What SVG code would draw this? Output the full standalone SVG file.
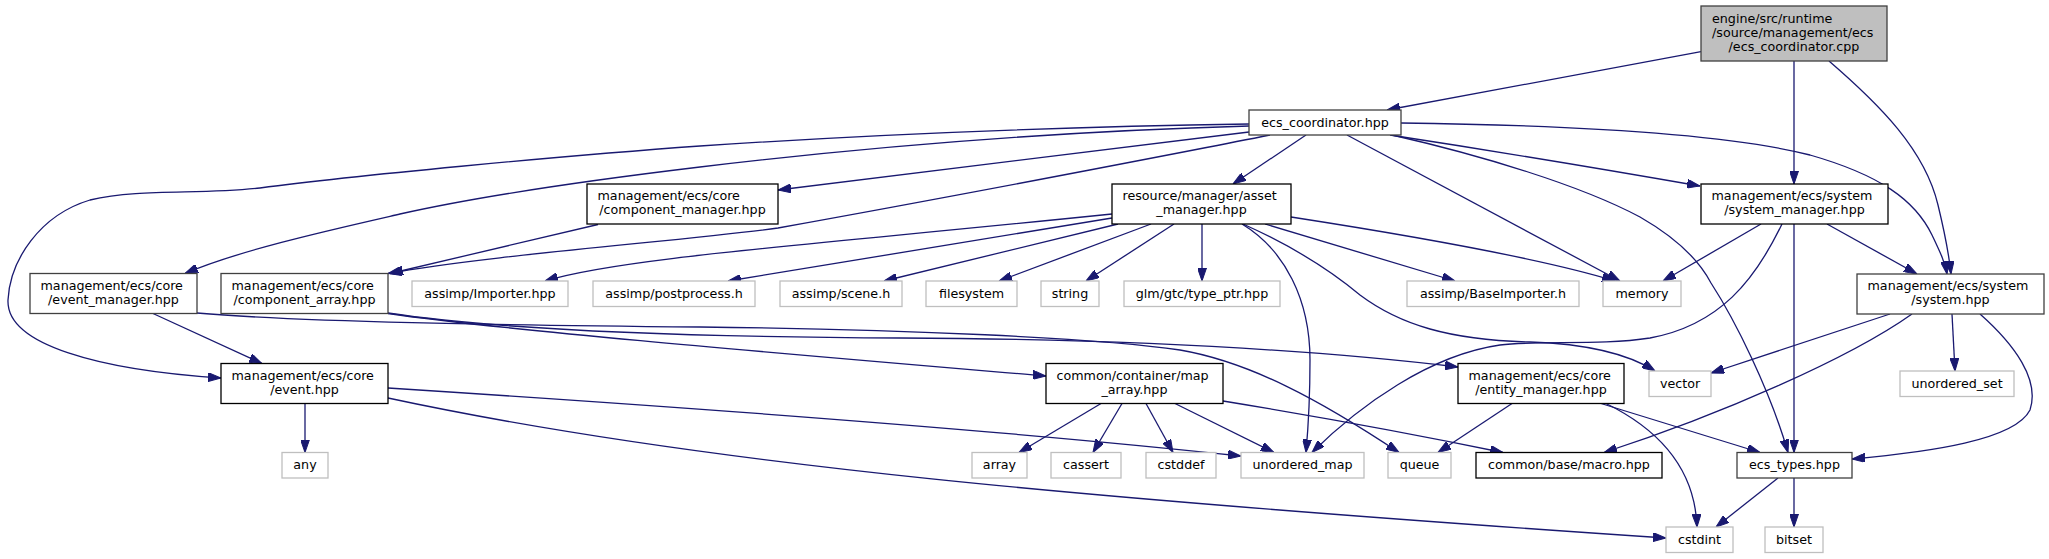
<svg xmlns="http://www.w3.org/2000/svg" width="2049" height="559" viewBox="0 0 2049 559">
<defs>
<marker id="arr" viewBox="0 0 13 9" refX="13" refY="4.5" markerUnits="userSpaceOnUse" markerWidth="13" markerHeight="9" orient="auto">
<path d="M0,0 L13,4.5 L0,9 z" fill="#191970" stroke="#191970" stroke-width="1"/>
</marker>
</defs>
<style>
text{font-family:"DejaVu Sans","Liberation Sans",sans-serif;font-size:12.7px;fill:#000}
.m{text-anchor:middle}
.s{text-anchor:start}
rect{fill:#fff;stroke-width:1.3}
.root rect{fill:#bfbfbf;stroke:#404040}
.g rect{stroke:#404040}
.b rect{stroke:#000}
.x rect{stroke:#bfbfbf}
#edges path{fill:none;stroke:#191970;stroke-width:1.3;marker-end:url(#arr)}
</style>
<rect x="0" y="0" width="2049" height="559" fill="#fff" stroke="none"/>
<g id="edges">
<path d="M1701,51.7 L1387,110"/>
<path d="M1794,61 L1794,184"/>
<path d="M1829,61 C1880,105 1925,150 1938,205 C1946,238 1949,255 1951,274"/>
<path d="M1249,124 C1050,127 850,136 700,146 C560,156 350,176 260,188 C200,195 140,188 90,200 C40,215 10,260 8,300 C6,345 100,370 221,378"/>
<path d="M1249,126 C1000,133 800,155 700,167 C600,179 480,196 400,214 C330,230 240,250 185,273.5"/>
<path d="M1249,132 L778,190"/>
<path d="M1270,135 C1230,143 1000,188 778,228 C690,240 480,256 388,273.5"/>
<path d="M598,224.5 L390,273.5"/>
<path d="M1306,135 L1233,184"/>
<path d="M1347,135 L1620,281"/>
<path d="M1390,135 Q1540,158 1700,186"/>
<path d="M1401,123 C1560,125 1720,132 1810,155 C1880,175 1915,200 1932,235 C1940,252 1945,262 1947,274"/>
<path d="M1392,135 C1480,155 1580,185 1640,217 C1680,240 1700,262 1711,283 C1735,320 1770,390 1788,452.5"/>
<path d="M1112,214 C800,246 620,258 545,281"/>
<path d="M1112,218 L728,281"/>
<path d="M1118,224 L884,281"/>
<path d="M1151,224 L999,281"/>
<path d="M1174,224 L1086,281"/>
<path d="M1202,224 L1202,281"/>
<path d="M1265,224 L1455,281"/>
<path d="M1291,217 C1420,237 1540,258 1615,281"/>
<path d="M1242,224 C1285,250 1310,300 1310,360 C1310,400 1308,430 1306,452.5"/>
<path d="M1243,224 C1290,245 1330,270 1360,295 C1400,325 1450,340 1530,342 C1590,344 1630,355 1655,371"/>
<path d="M1761,224 L1663,281"/>
<path d="M1827,224 L1917,274"/>
<path d="M1794,224 L1794,452.5"/>
<path d="M1782,224 C1755,280 1720,325 1650,338 C1600,346 1540,340 1500,345 C1430,355 1360,405 1312,452.5"/>
<path d="M1890,314 L1711,373"/>
<path d="M1952,314 L1955,371"/>
<path d="M1980,314 C2015,345 2040,380 2030,410 C2015,440 1930,452 1852,459"/>
<path d="M1912,314 C1850,358 1720,415 1604,452.5"/>
<path d="M153,313.5 L262,363.5"/>
<path d="M197,313 C300,322 500,325 700,327 C900,329 1100,338 1180,350 C1250,362 1320,400 1399,452.5"/>
<path d="M388,313.5 C500,330 800,355 1046,376"/>
<path d="M388,313 C500,330 700,337 900,338 C1100,339 1300,348 1458,367"/>
<path d="M305,403.5 L305,452.5"/>
<path d="M388,388 C700,408 1000,430 1241,456"/>
<path d="M388,398 C700,465 1100,500 1666,538"/>
<path d="M1101,403.5 L1019,452.5"/>
<path d="M1122,403.5 L1093,452.5"/>
<path d="M1146,403.5 L1173,452.5"/>
<path d="M1175,403.5 L1274,452.5"/>
<path d="M1223,401 Q1370,425 1503,452.5"/>
<path d="M1512,403.5 L1438,452.5"/>
<path d="M1601,403.5 L1760,452.5"/>
<path d="M1606,403.5 C1660,430 1695,470 1697,527"/>
<path d="M1778,478 L1716,527"/>
<path d="M1794,478 L1794,527"/>
</g>
<g id="node1" class="root"><rect x="1701" y="6" width="186" height="55"/><text class="s" x="1712" y="22.5">engine/src/runtime</text><text class="s" x="1712" y="36.5">/source/management/ecs</text><text class="m" x="1794" y="50.5">/ecs_coordinator.cpp</text></g>
<g id="node2" class="g"><rect x="1249" y="110" width="152" height="25"/><text class="m" x="1325" y="126.5">ecs_coordinator.hpp</text></g>
<g id="node3" class="b"><rect x="587" y="184" width="191" height="40"/><text class="s" x="597.5" y="200">management/ecs/core</text><text class="m" x="682.5" y="214">/component_manager.hpp</text></g>
<g id="node4" class="b"><rect x="1112" y="184" width="179" height="40"/><text class="s" x="1122.5" y="200">resource/manager/asset</text><text class="m" x="1201.5" y="214">_manager.hpp</text></g>
<g id="node5" class="b"><rect x="1701" y="184" width="187" height="40"/><text class="s" x="1711.5" y="200">management/ecs/system</text><text class="m" x="1794.5" y="214">/system_manager.hpp</text></g>
<g id="node6" class="g"><rect x="30" y="273.5" width="167" height="40"/><text class="s" x="40.5" y="289.5">management/ecs/core</text><text class="m" x="113.5" y="303.5">/event_manager.hpp</text></g>
<g id="node7" class="g"><rect x="221" y="273.5" width="167" height="40"/><text class="s" x="231.5" y="289.5">management/ecs/core</text><text class="m" x="304.5" y="303.5">/component_array.hpp</text></g>
<g id="node8" class="g"><rect x="1857" y="274" width="187" height="40"/><text class="s" x="1867.5" y="290">management/ecs/system</text><text class="m" x="1950.5" y="304">/system.hpp</text></g>
<g id="node9" class="b"><rect x="221" y="363.5" width="167" height="40"/><text class="s" x="231.5" y="379.5">management/ecs/core</text><text class="m" x="304.5" y="393.5">/event.hpp</text></g>
<g id="node10" class="b"><rect x="1046" y="363.5" width="177" height="40"/><text class="s" x="1056.5" y="379.5">common/container/map</text><text class="m" x="1134.5" y="393.5">_array.hpp</text></g>
<g id="node11" class="b"><rect x="1458" y="363.5" width="166" height="40"/><text class="s" x="1468.5" y="379.5">management/ecs/core</text><text class="m" x="1541" y="393.5">/entity_manager.hpp</text></g>
<g id="node12" class="b"><rect x="1476" y="452.5" width="186" height="25.5"/><text class="m" x="1569" y="469">common/base/macro.hpp</text></g>
<g id="node13" class="g"><rect x="1737" y="452.5" width="115" height="25.5"/><text class="m" x="1794.5" y="469">ecs_types.hpp</text></g>
<g id="node14" class="x"><rect x="412" y="281" width="156" height="25.5"/><text class="m" x="490" y="297.5">assimp/Importer.hpp</text></g>
<g id="node15" class="x"><rect x="593" y="281" width="162" height="25.5"/><text class="m" x="674" y="297.5">assimp/postprocess.h</text></g>
<g id="node16" class="x"><rect x="780" y="281" width="122" height="25.5"/><text class="m" x="841" y="297.5">assimp/scene.h</text></g>
<g id="node17" class="x"><rect x="926" y="281" width="91" height="25.5"/><text class="m" x="971.5" y="297.5">filesystem</text></g>
<g id="node18" class="x"><rect x="1041" y="281" width="58" height="25.5"/><text class="m" x="1070" y="297.5">string</text></g>
<g id="node19" class="x"><rect x="1124" y="281" width="156" height="25.5"/><text class="m" x="1202" y="297.5">glm/gtc/type_ptr.hpp</text></g>
<g id="node20" class="x"><rect x="1407" y="281" width="172" height="25.5"/><text class="m" x="1493" y="297.5">assimp/BaseImporter.h</text></g>
<g id="node21" class="x"><rect x="1603" y="281" width="78" height="25.5"/><text class="m" x="1642" y="297.5">memory</text></g>
<g id="node22" class="x"><rect x="1649" y="371" width="62" height="25.5"/><text class="m" x="1680" y="387.5">vector</text></g>
<g id="node23" class="x"><rect x="1900" y="371" width="114" height="25.5"/><text class="m" x="1957" y="387.5">unordered_set</text></g>
<g id="node24" class="x"><rect x="282" y="452.5" width="46" height="25.5"/><text class="m" x="305" y="469">any</text></g>
<g id="node25" class="x"><rect x="972" y="452.5" width="55" height="25.5"/><text class="m" x="999.5" y="469">array</text></g>
<g id="node26" class="x"><rect x="1051" y="452.5" width="70" height="25.5"/><text class="m" x="1086" y="469">cassert</text></g>
<g id="node27" class="x"><rect x="1146" y="452.5" width="70" height="25.5"/><text class="m" x="1181" y="469">cstddef</text></g>
<g id="node28" class="x"><rect x="1241" y="452.5" width="123" height="25.5"/><text class="m" x="1302.5" y="469">unordered_map</text></g>
<g id="node29" class="x"><rect x="1388" y="452.5" width="63" height="25.5"/><text class="m" x="1419.5" y="469">queue</text></g>
<g id="node30" class="x"><rect x="1666" y="527" width="67" height="25.5"/><text class="m" x="1699.5" y="543.5">cstdint</text></g>
<g id="node31" class="x"><rect x="1765" y="527" width="58" height="25.5"/><text class="m" x="1794" y="543.5">bitset</text></g>
</svg>
